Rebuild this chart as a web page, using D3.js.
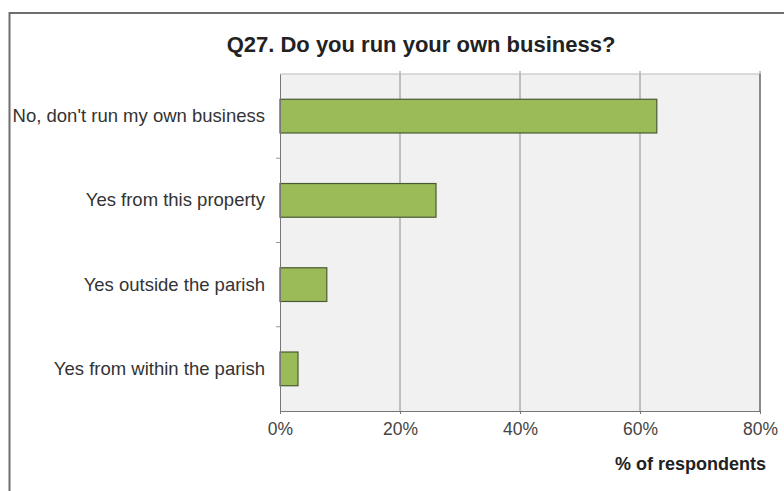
<!DOCTYPE html>
<html><head><meta charset="utf-8">
<script src="https://cdn.jsdelivr.net/npm/d3@7"></script>
<style>body{margin:0;background:#fff;}svg{display:block;font-family:"Liberation Sans",Arial,sans-serif;}</style>
</head><body>
<svg id="chart" width="784" height="491"></svg>
<script>
const categories = ["No, don't run my own business","Yes from this property","Yes outside the parish","Yes from within the parish"];
const values = [62.8, 26, 7.8, 3];
const xTicks = [0, 20, 40, 60, 80];
const title = "Q27. Do you run your own business?";
const xTitle = "% of respondents";

const svg = d3.select("#chart");
const W = 784, H = 491;
const m = {left: 280, right: 24, top: 74, bottom: 80};

// outer frame
svg.append("rect").attr("x", 9.5).attr("y", 13).attr("width", 790).attr("height", 500)
  .attr("fill", "#fff").attr("stroke", "#6e6e6e").attr("stroke-width", 2);

const x = d3.scaleLinear().domain([0, 80]).range([m.left, W - m.right]);
const y = d3.scaleBand().domain(categories).range([m.top, H - m.bottom]).paddingInner(0.6).paddingOuter(0.3);

// plot area
svg.append("rect").attr("x", x(0)).attr("y", m.top).attr("width", x(80) - x(0)).attr("height", H - m.bottom - m.top)
  .attr("fill", "#f1f1f1");

// gridlines
svg.append("g").selectAll("line").data(xTicks.slice(1)).join("line")
  .attr("x1", d => x(d)).attr("x2", d => x(d)).attr("y1", m.top - 3).attr("y2", H - m.bottom)
  .attr("stroke", "#8c8c8c").attr("stroke-width", 1);
svg.append("line").attr("x1", x(0)).attr("x2", x(80)).attr("y1", m.top).attr("y2", m.top)
  .attr("stroke", "#bbb");
svg.append("line").attr("x1", x(80)).attr("x2", x(80)).attr("y1", m.top).attr("y2", H - m.bottom)
  .attr("stroke", "#777").attr("stroke-width", 1.5);

// bars
svg.append("g").selectAll("rect").data(values).join("rect")
  .attr("x", x(0)).attr("y", (d, i) => y(categories[i]))
  .attr("width", d => x(d) - x(0)).attr("height", y.bandwidth())
  .attr("fill", "#9bbb59").attr("stroke", "#4a5a30").attr("stroke-width", 1.2);

// axes
const xAxis = svg.append("g").attr("transform", `translate(0,${H - m.bottom})`)
  .call(d3.axisBottom(x).tickValues(xTicks).tickFormat(d => d + "%").tickSize(3).tickPadding(9));
xAxis.select(".domain").attr("stroke", "#777");
xAxis.selectAll(".tick line").attr("stroke", "#777");
xAxis.selectAll("text").attr("font-size", 17.5).attr("fill", "#444").attr("font-family", "Liberation Sans, Arial, sans-serif");

const yAxis = svg.append("g").attr("transform", `translate(${x(0)},0)`)
  .call(d3.axisLeft(y).tickSize(0).tickPadding(15));
yAxis.select(".domain").attr("stroke", "#777");
yAxis.selectAll("text").attr("font-size", 18.5).attr("fill", "#333").attr("font-family", "Liberation Sans, Arial, sans-serif");

// category separator ticks
const seps = categories.slice(1).map((c, i) => y(c) - y.step() * y.paddingInner() / 2);
svg.append("g").selectAll("line").data(seps).join("line")
  .attr("x1", x(0) - 4).attr("x2", x(0)).attr("y1", d => d).attr("y2", d => d)
  .attr("stroke", "#999");

// titles
svg.append("text").attr("x", 421).attr("y", 52).attr("text-anchor", "middle")
  .attr("font-size", 22).attr("font-weight", "bold").attr("fill", "#222").text(title);
svg.append("text").attr("x", 766).attr("y", 470).attr("text-anchor", "end")
  .attr("font-size", 18).attr("font-weight", "bold").attr("fill", "#222").text(xTitle);
</script>
</body></html>
